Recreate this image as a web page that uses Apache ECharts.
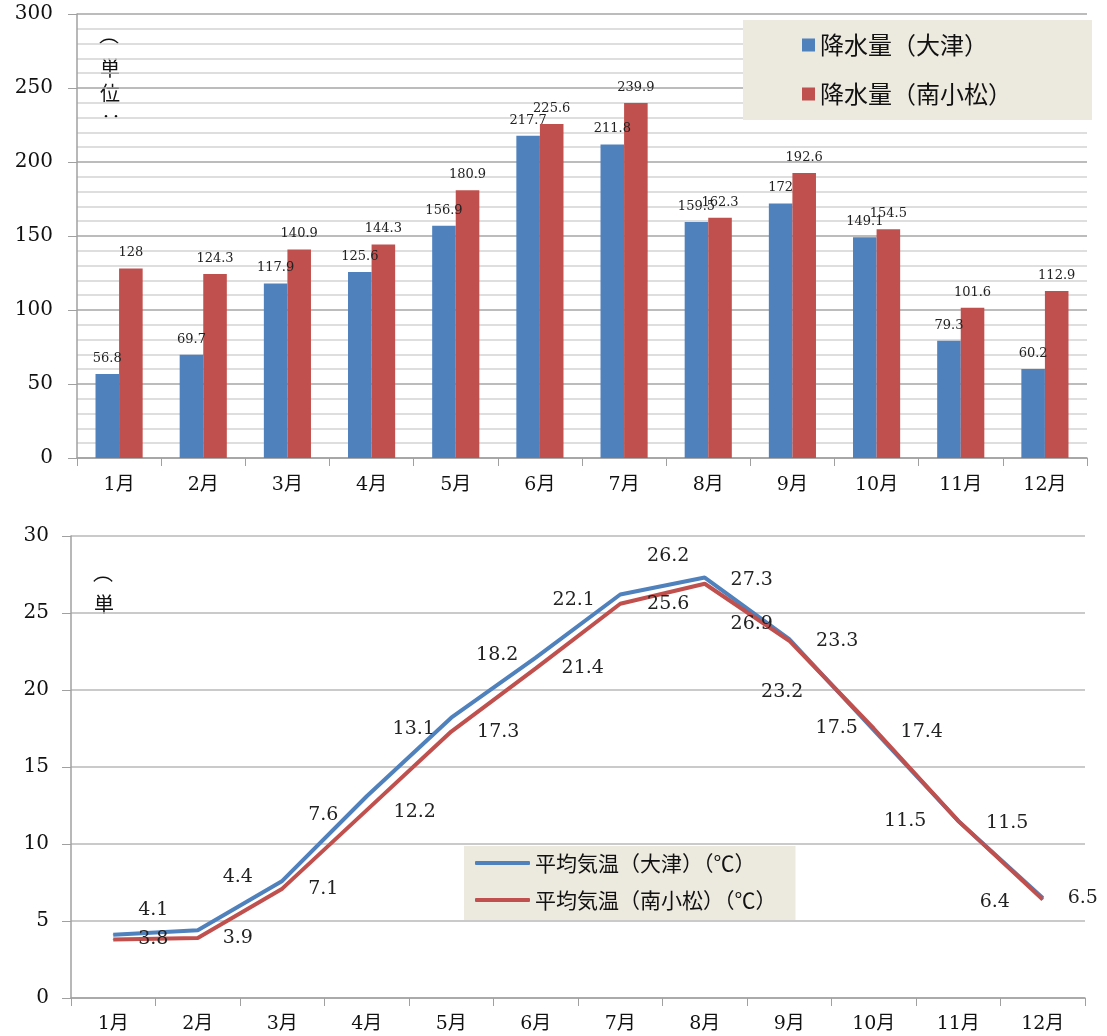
<!DOCTYPE html>
<html>
<head>
    <meta charset="UTF-8">
    <title>降水量と平均気温</title>
    <script src="https://cdn.jsdelivr.net/npm/echarts@6/dist/echarts.min.js"></script>
    <style>
        body { margin: 0; background: #fff; }
    </style>
</head>
<body>
<div id="main" style="width: 1107px; height: 1036px;"></div>

<script>
    // データ
    var months = ['1月', '2月', '3月', '4月', '5月', '6月', '7月', '8月', '9月', '10月', '11月', '12月'];
    var rainOtsu = [56.8, 69.7, 117.9, 125.6, 156.9, 217.7, 211.8, 159.5, 172, 149.1, 79.3, 60.2];
    var rainMinamikomatsu = [128, 124.3, 140.9, 144.3, 180.9, 225.6, 239.9, 162.3, 192.6, 154.5, 101.6, 112.9];
    var tempOtsu = [4.1, 4.4, 7.6, 13.1, 18.2, 22.1, 26.2, 27.3, 23.3, 17.4, 11.5, 6.5];
    var tempMinamikomatsu = [3.8, 3.9, 7.1, 12.2, 17.3, 21.4, 25.6, 26.9, 23.2, 17.5, 11.5, 6.4];
    var rainTicks = [0, 50, 100, 150, 200, 250, 300];
    var tempTicks = [0, 5, 10, 15, 20, 25, 30];

    // ラベルのずらし (見た目だけ)
    var shiftOtsu = [[40, -25], [40, -53], [41, -66], [47, -67], [46, -63], [38, -58], [48, -38], [47, 2], [48, 2], [48, 2], [49, 2], [40, 0]];
    var shiftMinami = [[40, 0], [40, 0], [41, 0], [48, 2], [47, 0], [47, 0], [48, 0], [47, 40], [-7, 51], [-37, 0], [-53, 0], [-48, 3]];

    var BLUE = '#4F81BD';
    var RED = '#C0504D';
    var SERIF = "'DejaVu Serif', 'Noto Sans CJK JP', serif";
    var SANS = "'Noto Sans CJK JP', sans-serif";
    var UNIT_FONT = "20px 'Noto Sans CJK JP'";

    function withShift(values, shifts) {
        return values.map(function (v, i) {
            return { value: v, label: { offset: shifts[i] } };
        });
    }

    var myChart = echarts.init(document.getElementById('main'));

    var option = {
        backgroundColor: '#fff',
        animation: false,
        grid: [
            { left: 77, top: 14, right: 20, height: 444 },
            { left: 71, top: 536, right: 22, height: 462 }
        ],
        legend: [
            {
                data: ['降水量（大津）', '降水量（南小松）'],
                orient: 'vertical',
                left: 743,
                top: 20,
                backgroundColor: '#ECE9DF',
                padding: [13, 80, 14, 59],
                icon: 'rect',
                itemWidth: 13,
                itemHeight: 13,
                itemGap: 25,
                textStyle: { fontFamily: SANS, fontSize: 24, lineHeight: 22, color: '#111' }
            },
            {
                data: ['平均気温（大津）（℃）', '平均気温（南小松）（℃）'],
                orient: 'vertical',
                left: 464,
                top: 846,
                backgroundColor: '#ECE9DF',
                padding: [6, 19, 9, 11],
                icon: 'roundRect',
                itemWidth: 55,
                itemHeight: 4,
                itemGap: 15,
                textStyle: { fontFamily: SANS, fontSize: 21, lineHeight: 22, color: '#111' }
            }
        ],
        xAxis: [
            {
                type: 'category',
                gridIndex: 0,
                data: months,
                axisLine: { lineStyle: { color: '#a0a0a0', width: 1.5 } },
                axisTick: { show: true, length: 8, lineStyle: { color: '#a0a0a0' } },
                axisLabel: { fontFamily: SERIF, fontSize: 19, color: '#111', margin: 18 }
            },
            {
                type: 'category',
                gridIndex: 1,
                data: months,
                axisLine: { lineStyle: { color: '#a0a0a0', width: 1.5 } },
                axisTick: { show: true, length: 8, lineStyle: { color: '#a0a0a0' } },
                axisLabel: { fontFamily: SERIF, fontSize: 19, color: '#111', margin: 17 }
            }
        ],
        yAxis: [
            {
                type: 'value',
                gridIndex: 0,
                min: rainTicks[0],
                max: rainTicks[rainTicks.length - 1],
                interval: rainTicks[1] - rainTicks[0],
                axisLine: { show: true, lineStyle: { color: '#a0a0a0', width: 1.5 } },
                axisTick: { show: true, length: 9, lineStyle: { color: '#a0a0a0' } },
                axisLabel: { fontFamily: SERIF, fontSize: 20, color: '#111', margin: 24 },
                splitLine: { lineStyle: { color: '#a6a6a6', width: 1.5 } },
                minorTick: { show: false, splitNumber: 5 },
                minorSplitLine: { show: true, lineStyle: { color: '#d4d4d4', width: 1.5 } }
            },
            {
                type: 'value',
                gridIndex: 1,
                min: tempTicks[0],
                max: tempTicks[tempTicks.length - 1],
                interval: tempTicks[1] - tempTicks[0],
                axisLine: { show: true, lineStyle: { color: '#a0a0a0', width: 1.5 } },
                axisTick: { show: true, length: 9, lineStyle: { color: '#a0a0a0' } },
                axisLabel: { fontFamily: SERIF, fontSize: 20, color: '#111', margin: 22 },
                splitLine: { lineStyle: { color: '#b8b8b8', width: 1.5 } }
            }
        ],
        // 縦書きの単位 (切れている)
        graphic: [
            { type: 'text', left: 99, top: 38, style: { text: '⌒', font: UNIT_FONT, fill: '#111' } },
            { type: 'text', left: 100, top: 58, style: { text: '単', font: UNIT_FONT, fill: '#111' } },
            { type: 'text', left: 100, top: 83, style: { text: '位', font: UNIT_FONT, fill: '#111' } },
            { type: 'text', left: 101, top: 106, style: { text: '‥', font: UNIT_FONT, fill: '#111' } },
            { type: 'text', left: 93, top: 576, style: { text: '⌒', font: UNIT_FONT, fill: '#111' } },
            { type: 'text', left: 94, top: 594, style: { text: '単', font: UNIT_FONT, fill: '#111' } }
        ],
        series: [
            {
                name: '降水量（大津）',
                type: 'bar',
                xAxisIndex: 0,
                yAxisIndex: 0,
                data: rainOtsu,
                barGap: '0%',
                barCategoryGap: '44%',
                itemStyle: { color: BLUE },
                label: { show: true, position: 'top', distance: 9, fontFamily: SERIF, fontSize: 13, color: '#222' }
            },
            {
                name: '降水量（南小松）',
                type: 'bar',
                xAxisIndex: 0,
                yAxisIndex: 0,
                data: rainMinamikomatsu,
                barGap: '0%',
                barCategoryGap: '44%',
                itemStyle: { color: RED },
                label: { show: true, position: 'top', distance: 9, fontFamily: SERIF, fontSize: 13, color: '#222' }
            },
            {
                name: '平均気温（大津）（℃）',
                type: 'line',
                xAxisIndex: 1,
                yAxisIndex: 1,
                data: withShift(tempOtsu, shiftOtsu),
                symbol: 'circle',
                symbolSize: 1,
                itemStyle: { color: BLUE },
                lineStyle: { color: BLUE, width: 4 },
                label: { show: true, position: 'inside', align: 'center', verticalAlign: 'middle', fontFamily: SERIF, fontSize: 19, color: '#222' }
            },
            {
                name: '平均気温（南小松）（℃）',
                type: 'line',
                xAxisIndex: 1,
                yAxisIndex: 1,
                data: withShift(tempMinamikomatsu, shiftMinami),
                symbol: 'circle',
                symbolSize: 1,
                itemStyle: { color: RED },
                lineStyle: { color: RED, width: 4 },
                label: { show: true, position: 'inside', align: 'center', verticalAlign: 'middle', fontFamily: SERIF, fontSize: 19, color: '#222' }
            }
        ]
    };

    myChart.setOption(option);
</script>
</body>
</html>
